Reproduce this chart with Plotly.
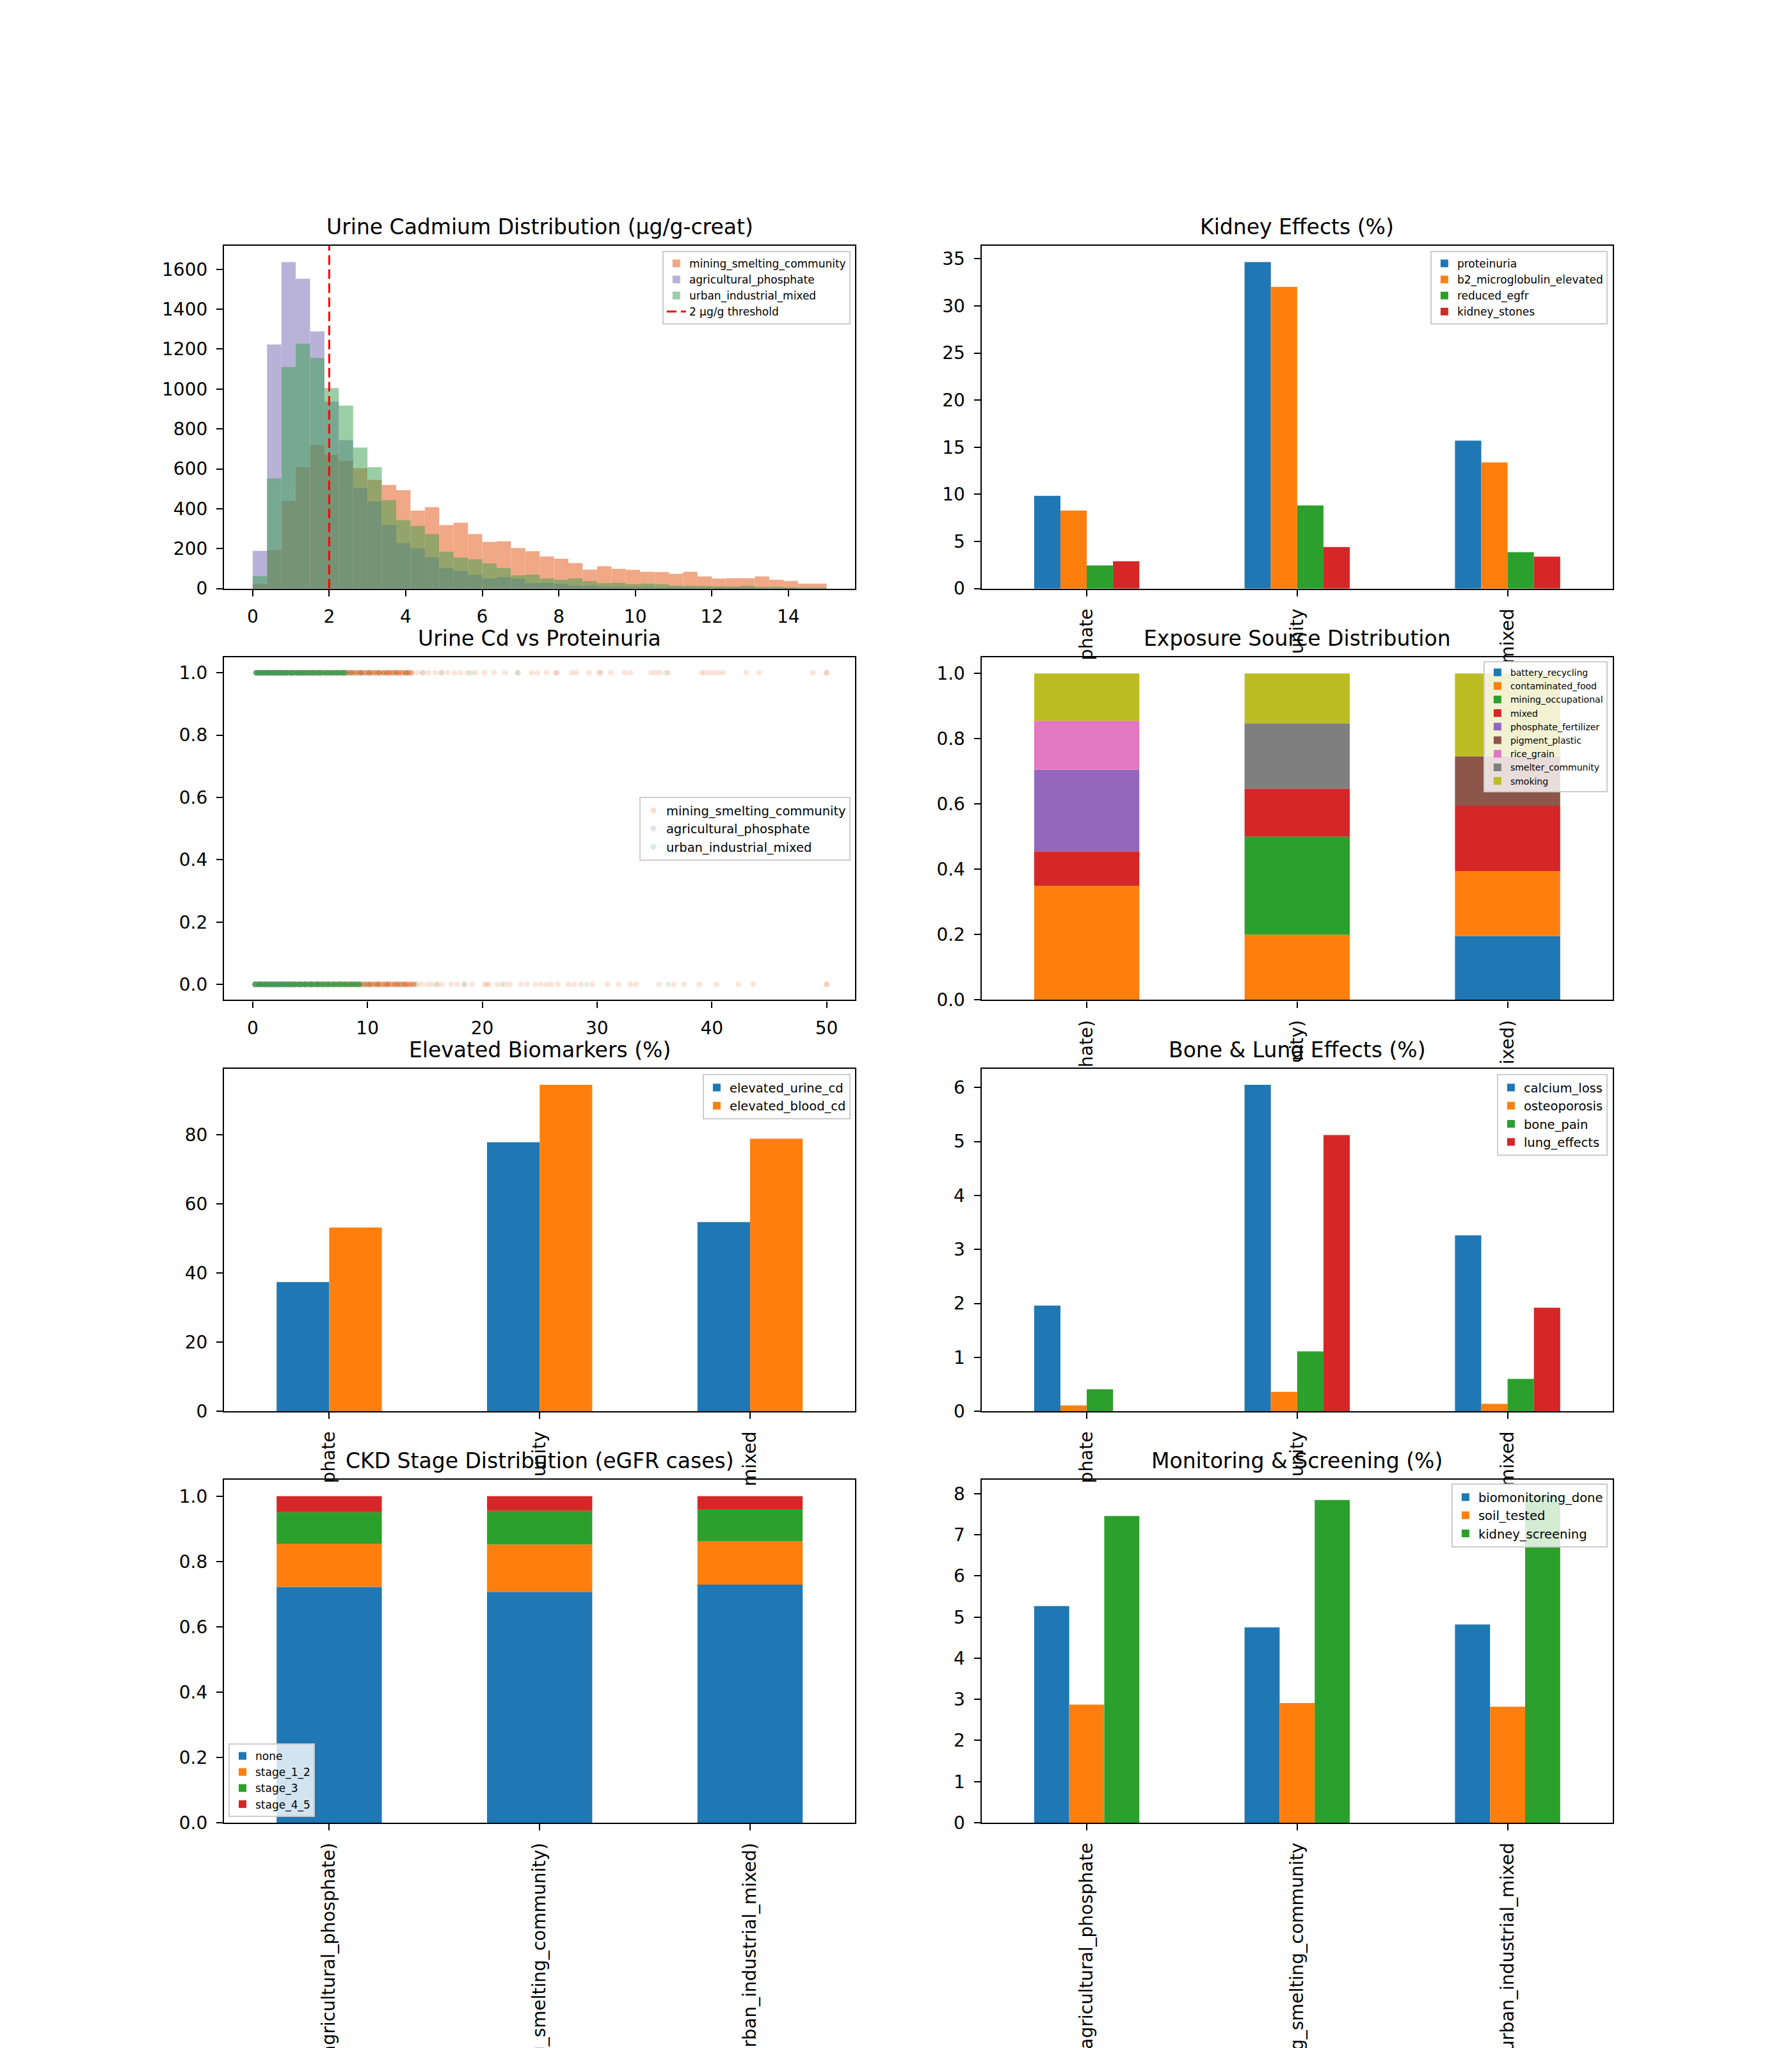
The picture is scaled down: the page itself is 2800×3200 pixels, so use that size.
import plotly.graph_objects as go

FONT = "DejaVu Sans"

# ---------------- data ----------------
REGIONS = ["agricultural_phosphate", "mining_smelting_community", "urban_industrial_mixed"]

# histogram (pre-binned counts, 40 bins from 0 to 15)
HIST_BIN_START = 0.0
HIST_BIN_WIDTH = 0.375
hist_mining = [22, 192, 439, 608, 719, 671, 639, 603, 545, 519, 493, 391, 408, 318, 330, 273, 234, 237, 203, 187,
               161, 150, 128, 95, 112, 99, 94, 84, 83, 74, 84, 61, 50, 52, 52, 61, 44, 38, 25, 25]
hist_agri = [189, 1223, 1636, 1553, 1289, 937, 744, 504, 437, 318, 227, 202, 157, 103, 88, 69, 50, 57, 50, 27,
             29, 23, 15, 15, 10, 10, 8, 9, 6, 6, 5, 4, 4, 3, 3, 2, 1, 1, 0, 0]
hist_urban = [62, 552, 1110, 1227, 1156, 1005, 917, 707, 608, 443, 343, 314, 273, 185, 155, 146, 126, 103, 66, 70,
              51, 44, 51, 37, 27, 29, 22, 25, 22, 15, 14, 13, 11, 10, 14, 9, 10, 6, 6, 5]
THRESHOLD = 2

# kidney effects (%)
kidney_series = ["proteinuria", "b2_microglobulin_elevated", "reduced_egfr", "kidney_stones"]
kidney_values = [[9.84, 34.65, 15.70], [8.28, 32.02, 13.39], [2.45, 8.82, 3.87], [2.90, 4.41, 3.39]]

# scatter: urine Cd values for proteinuria = 1 / 0
sc_mining_p1_dense = [0.5, 0.8, 1.1, 1.3, 1.6, 1.9, 2.2, 2.4, 2.7, 3.0, 3.3, 3.5, 3.8, 4.1, 4.4, 4.6, 4.9, 5.2, 5.5,
                      5.7, 6.0, 6.3, 6.6, 6.8, 7.1, 7.4, 7.7, 7.9, 8.2, 8.5, 8.7, 9.0, 9.3, 9.5, 9.8, 10.1, 10.3,
                      10.6, 10.9, 11.1, 11.4, 11.7, 11.9, 12.2, 12.5, 12.7, 13.0, 13.3, 13.5, 13.8]
sc_mining_p1_sparse = [14.3, 14.8, 15.3, 15.9, 16.4, 17.0, 17.6, 18.1, 18.7, 19.4, 20.2, 21.0, 22.0, 23.1, 24.3,
                       24.8, 25.6, 26.4, 26.5, 27.8, 28.2, 29.3, 30.2, 30.3, 31.2, 32.4, 32.9, 34.7, 35.1, 35.5,
                       36.2, 39.1, 39.4, 39.8, 40.2, 40.6, 41.0, 43.0, 44.1, 48.8, 50.0, 50.0]
sc_mining_p0_dense = [0.4, 0.7, 1.0, 1.2, 1.5, 1.8, 2.1, 2.3, 2.6, 2.9, 3.2, 3.4, 3.7, 4.0, 4.3, 4.5, 4.8, 5.1, 5.4,
                      5.6, 5.9, 6.2, 6.5, 6.7, 7.0, 7.3, 7.6, 7.8, 8.1, 8.4, 8.6, 8.9, 9.2, 9.4, 9.7, 10.0, 10.2,
                      10.5, 10.8, 11.0, 11.3, 11.6, 11.8, 12.1, 12.4, 12.6, 12.9, 13.2, 13.4, 13.7, 14.0]
sc_mining_p0_sparse = [14.3, 14.7, 15.2, 15.6, 16.1, 16.5, 17.3, 17.8, 18.4, 19.1, 20.2, 20.4, 20.6, 21.3, 22.0,
                       22.4, 23.4, 23.9, 24.6, 25.1, 25.6, 26.0, 26.6, 27.5, 28.0, 28.6, 29.6, 30.9, 31.9, 32.9,
                       33.4, 35.4, 36.7, 37.6, 38.9, 40.4, 42.3, 43.6, 50.0, 50.0]
sc_agri_p1_dense = [0.3, 0.6, 0.9, 1.2, 1.5, 1.8, 2.1, 2.4, 2.7, 3.0, 3.4, 3.8, 4.2, 4.7, 5.2, 5.8]
sc_agri_p1_sparse = [6.5, 7.3, 8.2, 9.4]
sc_agri_p0_dense = [0.2, 0.5, 0.8, 1.1, 1.4, 1.7, 2.0, 2.3, 2.6, 2.9, 3.3, 3.7, 4.1, 4.6, 5.1, 5.7]
sc_agri_p0_sparse = [6.4, 7.1, 8.0, 9.2]
sc_urban_p1_dense = [0.3, 0.5, 0.8, 1.0, 1.3, 1.5, 1.8, 2.0, 2.3, 2.5, 2.8, 3.0, 3.3, 3.5, 3.8, 4.0, 4.3, 4.5, 4.8,
                     5.0, 5.3, 5.5, 5.8, 6.0, 6.3, 6.5, 6.8, 7.0, 7.3, 7.5, 7.8, 8.0]
sc_urban_p1_sparse = [8.4, 8.9, 9.5, 10.1, 10.8, 11.5, 12.3, 13.4, 14.8, 16.5, 19.0, 23.1, 36.0]
sc_urban_p0_dense = [0.2, 0.5, 0.7, 1.0, 1.2, 1.5, 1.7, 2.0, 2.2, 2.5, 2.7, 3.0, 3.2, 3.5, 3.7, 4.0, 4.2, 4.5, 4.7,
                     5.0, 5.2, 5.5, 5.7, 6.0, 6.2, 6.5, 6.7, 7.0, 7.2, 7.5, 7.7, 8.0, 8.2, 8.5, 8.8, 9.0, 9.3]
sc_urban_p0_sparse = [9.8, 10.3, 10.9, 11.8, 12.9, 14.2, 16.0, 18.5, 21.7, 29.1, 36.2]

# exposure source distribution (fractions)
exposure_series = ["battery_recycling", "contaminated_food", "mining_occupational", "mixed", "phosphate_fertilizer",
                   "pigment_plastic", "rice_grain", "smelter_community", "smoking"]
exposure_values = [[0.0, 0.0, 0.196], [0.35, 0.20, 0.199], [0.0, 0.30, 0.0], [0.105, 0.147, 0.20],
                   [0.25, 0.0, 0.0], [0.0, 0.0, 0.151], [0.15, 0.0, 0.0], [0.0, 0.20, 0.0], [0.145, 0.153, 0.254]]

# elevated biomarkers (%)
biomarker_series = ["elevated_urine_cd", "elevated_blood_cd"]
biomarker_values = [[37.4, 77.9, 54.8], [53.2, 94.5, 78.9]]

# bone & lung effects (%)
bone_series = ["calcium_loss", "osteoporosis", "bone_pain", "lung_effects"]
bone_values = [[1.96, 6.05, 3.26], [0.11, 0.36, 0.14], [0.41, 1.11, 0.60], [0.0, 5.12, 1.92]]

# CKD stage distribution (fractions)
ckd_series = ["none", "stage_1_2", "stage_3", "stage_4_5"]
ckd_values = [[0.7225, 0.7073, 0.7290], [0.1323, 0.1451, 0.1330], [0.0962, 0.1027, 0.0986], [0.0490, 0.0449, 0.0394]]

# monitoring & screening (%)
monitor_series = ["biomonitoring_done", "soil_tested", "kidney_screening"]
monitor_values = [[5.27, 4.75, 4.82], [2.87, 2.91, 2.82], [7.46, 7.85, 7.94]]

# visible parts of the category tick labels
labels_cut = ["phate", "unity", "mixed"]
labels_cut_paren = ["hate)", "nity)", "ixed)"]
labels_ckd = ["(agricultural_phosphate)", "(mining_smelting_community)", "(urban_industrial_mixed)"]
labels_full = REGIONS

# ---------------- styling ----------------
TAB10 = ["#1f77b4", "#ff7f0e", "#2ca02c", "#d62728", "#9467bd", "#8c564b", "#e377c2", "#7f7f7f", "#bcbd22"]
C_MINING = "#E1530F"
C_AGRI = "#7567B1"
C_URBAN = "#38A04E"

W, H = 2800, 3200
COLS = [(0.125, 0.477273), (0.547727, 0.9)]
ROWS = [(0.712609, 0.88), (0.511739, 0.679130), (0.310870, 0.478261), (0.11, 0.277391)]

fig = go.Figure()
layout = dict(
    width=W, height=H, margin=dict(l=0, r=0, t=0, b=0),
    paper_bgcolor="white", plot_bgcolor="white",
    barmode="overlay", template="none",
    font=dict(family=FONT, color="black", size=28),
    annotations=[],
)

panel_pos = {1: (0, 0), 2: (0, 1), 3: (1, 0), 4: (1, 1), 5: (2, 0), 6: (2, 1), 7: (3, 0), 8: (3, 1)}
titles = {1: "Urine Cadmium Distribution (µg/g-creat)", 2: "Kidney Effects (%)", 3: "Urine Cd vs Proteinuria",
          4: "Exposure Source Distribution", 5: "Elevated Biomarkers (%)", 6: "Bone & Lung Effects (%)",
          7: "CKD Stage Distribution (eGFR cases)", 8: "Monitoring & Screening (%)"}

axis_common = dict(showline=True, mirror=True, linecolor="black", linewidth=2.2, ticks="outside", ticklen=10,
                   tickwidth=2.2, tickcolor="black", showgrid=False, zeroline=False, automargin=False,
                   ticklabelstandoff=8, tickfont=dict(family=FONT, size=28, color="black"))


def setup_axes(k, xopts, yopts):
    r, c = panel_pos[k]
    xd, yd = COLS[c], ROWS[r]
    xa = dict(axis_common, domain=list(xd), anchor="y%d" % k)
    xa.update(xopts)
    ya = dict(axis_common, domain=list(yd), anchor="x%d" % k)
    ya.update(yopts)
    layout["xaxis%d" % k] = xa
    layout["yaxis%d" % k] = ya
    layout["annotations"].append(dict(
        text=titles[k], x=(xd[0] + xd[1]) / 2, y=yd[1], xref="paper", yref="paper",
        xanchor="center", yanchor="bottom", yshift=8, showarrow=False,
        font=dict(family=FONT, size=33, color="black")))


def cat_x(ticktext):
    return dict(type="category", range=[-0.5, 2.5], tickmode="array", tickvals=REGIONS, ticktext=ticktext,
                tickangle=-90)


def legend_box(x, y, xanchor, yanchor, size):
    return dict(x=x, y=y, xanchor=xanchor, yanchor=yanchor, xref="paper", yref="paper",
                bgcolor="rgba(255,255,255,0.8)", bordercolor="#cccccc", borderwidth=2,
                font=dict(family=FONT, size=size, color="black"), itemwidth=30, tracegroupgap=0)


def grouped(k, names, values, legend):
    n = len(names)
    w = 0.5 / n
    for i, (nm, vals) in enumerate(zip(names, values)):
        fig.add_trace(go.Bar(x=REGIONS, y=vals, name=nm, width=w, offset=-0.25 + i * w,
                             marker=dict(color=TAB10[i], line=dict(width=0)),
                             xaxis="x%d" % k, yaxis="y%d" % k, legend=legend))


def stacked(k, names, values, legend):
    base = [0.0] * len(REGIONS)
    for i, (nm, vals) in enumerate(zip(names, values)):
        fig.add_trace(go.Bar(x=REGIONS, y=vals, base=list(base), name=nm, width=0.5, offset=-0.25,
                             marker=dict(color=TAB10[i], line=dict(width=0)),
                             xaxis="x%d" % k, yaxis="y%d" % k, legend=legend))
        base = [b + v for b, v in zip(base, vals)]


# ---- panel 1: histogram ----
hist_ymax = max(hist_mining + hist_agri + hist_urban) * 1.05
centers = [HIST_BIN_START + (i + 0.5) * HIST_BIN_WIDTH for i in range(len(hist_mining))]
for nm, counts, col in [("mining_smelting_community", hist_mining, C_MINING),
                        ("agricultural_phosphate", hist_agri, C_AGRI),
                        ("urban_industrial_mixed", hist_urban, C_URBAN)]:
    fig.add_trace(go.Bar(x=centers, y=counts, width=HIST_BIN_WIDTH, name=nm, opacity=0.5,
                         marker=dict(color=col, line=dict(width=0)), xaxis="x1", yaxis="y1", legend="legend"))
fig.add_trace(go.Scatter(x=[THRESHOLD, THRESHOLD], y=[0, hist_ymax], mode="lines", name="2 µg/g threshold",
                         line=dict(color="red", dash="15px,7px", width=3), xaxis="x1", yaxis="y1", legend="legend"))
setup_axes(1, dict(range=[-0.75, 15.75], tickmode="array", tickvals=[0, 2, 4, 6, 8, 10, 12, 14]),
           dict(range=[0, hist_ymax], tickmode="array", tickvals=[0, 200, 400, 600, 800, 1000, 1200, 1400, 1600]))
layout["legend"] = legend_box(0.4746, 0.8775, "right", "top", 17)

# ---- panel 2: kidney ----
grouped(2, kidney_series, kidney_values, "legend2")
setup_axes(2, cat_x(labels_cut),
           dict(range=[0, max(max(v) for v in kidney_values) * 1.05], tickmode="array",
                tickvals=[0, 5, 10, 15, 20, 25, 30, 35]))
layout["legend2"] = legend_box(0.8971, 0.8775, "right", "top", 17)

# ---- panel 3: scatter ----
for nm, col, p1d, p1s, p0d, p0s in [
        ("mining_smelting_community", C_MINING, sc_mining_p1_dense, sc_mining_p1_sparse, sc_mining_p0_dense, sc_mining_p0_sparse),
        ("agricultural_phosphate", C_AGRI, sc_agri_p1_dense, sc_agri_p1_sparse, sc_agri_p0_dense, sc_agri_p0_sparse),
        ("urban_industrial_mixed", C_URBAN, sc_urban_p1_dense, sc_urban_p1_sparse, sc_urban_p0_dense, sc_urban_p0_sparse)]:
    dense_op = 0.7 if nm == "urban_industrial_mixed" else 0.5
    fig.add_trace(go.Scatter(x=p1d + p0d, y=[1] * len(p1d) + [0] * len(p0d), mode="markers", name=nm,
                             marker=dict(color=col, size=9, opacity=dense_op, line=dict(width=0)),
                             showlegend=False, xaxis="x3", yaxis="y3"))
    fig.add_trace(go.Scatter(x=p1s + p0s, y=[1] * len(p1s) + [0] * len(p0s), mode="markers", name=nm,
                             marker=dict(color=col, size=9, opacity=0.15, line=dict(width=0)),
                             xaxis="x3", yaxis="y3", legend="legend3"))
setup_axes(3, dict(range=[-2.5, 52.5], tickmode="array", tickvals=[0, 10, 20, 30, 40, 50]),
           dict(range=[-0.05, 1.05], tickmode="array", tickvals=[0, 0.2, 0.4, 0.6, 0.8, 1.0], tickformat=".1f"))
layout["legend3"] = legend_box(0.4746, 0.5953, "right", "middle", 19.5)

# ---- panel 4: exposure ----
stacked(4, exposure_series, exposure_values, "legend4")
setup_axes(4, cat_x(labels_cut_paren),
           dict(range=[0, 1.05], tickmode="array", tickvals=[0, 0.2, 0.4, 0.6, 0.8, 1.0], tickformat=".1f"))
layout["legend4"] = legend_box(0.8971, 0.6772, "right", "top", 14)

# ---- panel 5: biomarkers ----
grouped(5, biomarker_series, biomarker_values, "legend5")
setup_axes(5, cat_x(labels_cut),
           dict(range=[0, max(max(v) for v in biomarker_values) * 1.05], tickmode="array",
                tickvals=[0, 20, 40, 60, 80]))
layout["legend5"] = legend_box(0.4746, 0.4756, "right", "top", 19.5)

# ---- panel 6: bone & lung ----
grouped(6, bone_series, bone_values, "legend6")
setup_axes(6, cat_x(labels_cut),
           dict(range=[0, max(max(v) for v in bone_values) * 1.05], tickmode="array",
                tickvals=[0, 1, 2, 3, 4, 5, 6]))
layout["legend6"] = legend_box(0.8971, 0.4756, "right", "top", 19.5)

# ---- panel 7: CKD ----
stacked(7, ckd_series, ckd_values, "legend7")
setup_axes(7, cat_x(labels_ckd),
           dict(range=[0, 1.05], tickmode="array", tickvals=[0, 0.2, 0.4, 0.6, 0.8, 1.0], tickformat=".1f"))
layout["legend7"] = legend_box(0.1275, 0.1128, "left", "bottom", 17)

# ---- panel 8: monitoring ----
grouped(8, monitor_series, monitor_values, "legend8")
setup_axes(8, cat_x(labels_full),
           dict(range=[0, max(max(v) for v in monitor_values) * 1.05], tickmode="array",
                tickvals=[0, 1, 2, 3, 4, 5, 6, 7, 8]))
layout["legend8"] = legend_box(0.8971, 0.2756, "right", "top", 19.5)

fig.update_layout(**layout)
fig.write_html("out.html")
